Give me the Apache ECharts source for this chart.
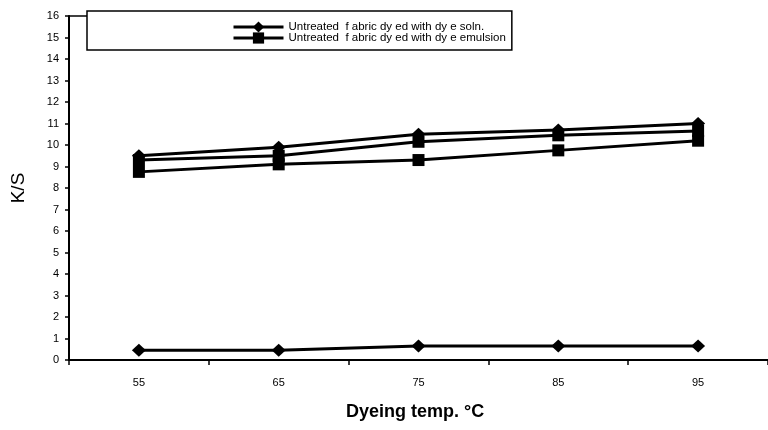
<!DOCTYPE html>
<html>
<head>
<meta charset="utf-8">
<script src="https://cdn.jsdelivr.net/npm/echarts@6/dist/echarts.min.js"></script>
<style>html,body{margin:0;padding:0;background:#fff;}#c{width:768px;height:430px;}</style>
</head>
<body>
<div id="c"></div>
<script>
var categories = ['55', '65', '75', '85', '95'];
var solnUntreated = [0.45, 0.45, 0.65, 0.65, 0.65];
var emulsionUntreated = [8.75, 9.1, 9.3, 9.75, 10.2];
var solnTreated = [9.5, 9.9, 10.5, 10.7, 11.0];
var emulsionTreated = [9.3, 9.5, 10.15, 10.45, 10.65];
var legendNames = ['Untreated  f abric dy ed with dy e soln.', 'Untreated  f abric dy ed with dy e emulsion'];
var xTitle = 'Dyeing temp. °C';
var yTitle = 'K/S';

var FONT = 'Liberation Sans, Arial, sans-serif';
function mk(name, data, symbol, size) {
  return {
    name: name, type: 'line', data: data, symbol: symbol, symbolSize: size,
    showSymbol: true, animation: false,
    lineStyle: { color: '#000', width: 3 },
    itemStyle: { color: '#000' }
  };
}
var chart = echarts.init(document.getElementById('c'), null, { renderer: 'canvas' });
chart.setOption({
  backgroundColor: '#fff',
  animation: false,
  textStyle: { fontFamily: FONT },
  title: {
    text: xTitle, left: 341, top: 398,
    textStyle: { fontFamily: FONT, fontSize: 18, fontWeight: 'bold', color: '#000' }
  },
  grid: { left: 69, top: 16, width: 710, height: 344, containLabel: false },
  legend: {
    orient: 'vertical', left: 87, top: 11,
    data: legendNames,
    itemWidth: 50, itemHeight: 14, itemGap: -1,
    padding: [10, 6, 6, 145],
    lineStyle: { width: 3, color: '#000' },
    borderColor: '#000', borderWidth: 1.5, backgroundColor: '#fff',
    textStyle: { fontFamily: FONT, fontSize: 11.5, color: '#000', lineHeight: 12 }
  },
  xAxis: {
    type: 'category', data: categories, boundaryGap: true,
    axisLine: { lineStyle: { color: '#000', width: 2 } },
    axisTick: { show: true, length: 5, lineStyle: { color: '#000', width: 1.5 }, alignWithLabel: false },
    axisLabel: { color: '#000', fontSize: 11, margin: 17, fontFamily: FONT },
    splitLine: { show: false }
  },
  yAxis: {
    type: 'value', min: 0, max: 16, interval: 1,
    name: yTitle, nameLocation: 'middle', nameGap: 41, nameRotate: 90,
    nameTextStyle: { color: '#000', fontSize: 19, fontFamily: FONT },
    axisLine: { show: true, lineStyle: { color: '#000', width: 2 } },
    axisTick: { show: true, length: 4, lineStyle: { color: '#000', width: 1.5 } },
    axisLabel: { color: '#000', fontSize: 11, margin: 10, fontFamily: FONT },
    splitLine: { show: false }
  },
  graphic: [
    { type: 'line', shape: { x1: 69, y1: 16, x2: 87, y2: 16 }, style: { stroke: '#000', lineWidth: 1.5 }, z: 100 }
  ],
  series: [
    mk(legendNames[0], solnUntreated, 'diamond', [14, 13]),
    mk(legendNames[1], emulsionUntreated, 'rect', 12),
    mk('Treated fabric dyed with dye soln.', solnTreated, 'diamond', [14, 13]),
    mk('Treated fabric dyed with dye emulsion', emulsionTreated, 'rect', 12)
  ]
});
</script>
</body>
</html>
